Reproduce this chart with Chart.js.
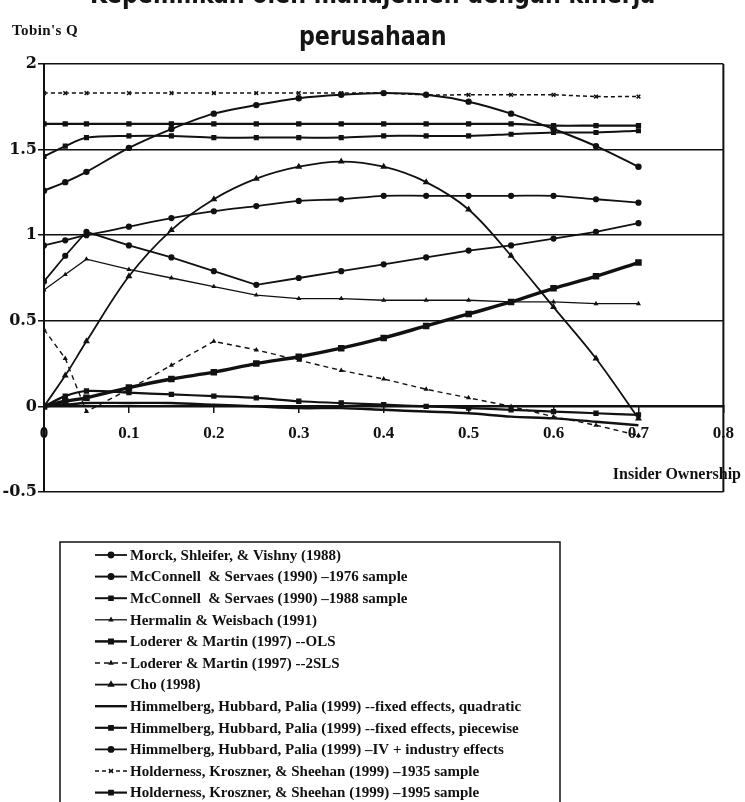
<!DOCTYPE html>
<html>
<head>
<meta charset="utf-8">
<script src="https://cdn.jsdelivr.net/npm/chart.js@4.4.1/dist/chart.umd.min.js"></script>
<style>
  html, body { margin: 0; padding: 0; background: #fff; }
  #wrap { position: relative; width: 745px; height: 802px; overflow: hidden; }
  #chart { position: absolute; left: 0; top: 0; }
  .title { position: absolute; left: 0; width: 745px; text-align: center; line-height: 27px;
           font: bold 27px "Liberation Sans Narrow", "DejaVu Sans Condensed", sans-serif; color: #151515;
           white-space: nowrap; transform: scaleX(0.915); transform-origin: 375px 0; }
  #t1 { top: -22px; }
  #t2 { top: 20px; }
  #yTitle { position: absolute; left: 12px; top: 22px; font: bold 15px "Liberation Serif", serif; letter-spacing: 0.4px; color: #111; }
  #xTitle { position: absolute; right: 4px; top: 465px; font: bold 16px "Liberation Serif", serif; color: #111; }
</style>
</head>
<body>
<div id="wrap">
  <canvas id="chart" width="745" height="802"></canvas>
  <div class="title" id="t1">Kepemilikan oleh manajemen dengan kinerja</div>
  <div class="title" id="t2">perusahaan</div>
  <div id="yTitle">Tobin's Q</div>
  <div id="xTitle">Insider Ownership</div>
</div>
<script>
/* ====== DATA ====== */
const ownership = [0, 0.025, 0.05, 0.1, 0.15, 0.2, 0.25, 0.3, 0.35, 0.4, 0.45, 0.5, 0.55, 0.6, 0.65, 0.7];

const morck        = [0.73, 0.88, 1.02, 0.94, 0.87, 0.79, 0.71, 0.75, 0.79, 0.83, 0.87, 0.91, 0.94, 0.98, 1.02, 1.07];
const mcc1976      = [1.26, 1.31, 1.37, 1.51, 1.62, 1.71, 1.76, 1.80, 1.82, 1.83, 1.82, 1.78, 1.71, 1.62, 1.52, 1.40];
const mcc1988      = [1.46, 1.52, 1.57, 1.58, 1.58, 1.57, 1.57, 1.57, 1.57, 1.58, 1.58, 1.58, 1.59, 1.60, 1.60, 1.61];
const hermalin     = [0.68, 0.77, 0.86, 0.80, 0.75, 0.70, 0.65, 0.63, 0.63, 0.62, 0.62, 0.62, 0.61, 0.61, 0.60, 0.60];
const lodererOls   = [0.00, 0.03, 0.05, 0.11, 0.16, 0.20, 0.25, 0.29, 0.34, 0.40, 0.47, 0.54, 0.61, 0.69, 0.76, 0.84];
const loderer2sls  = [0.45, 0.28, -0.03, 0.10, 0.24, 0.38, 0.33, 0.27, 0.21, 0.16, 0.10, 0.05, 0.00, -0.06, -0.11, -0.17];
const cho          = [0.00, 0.18, 0.38, 0.76, 1.03, 1.21, 1.33, 1.40, 1.43, 1.40, 1.31, 1.15, 0.88, 0.58, 0.28, -0.07];
const himQuad      = [0.00, 0.01, 0.02, 0.02, 0.02, 0.01, 0.00, -0.01, -0.01, -0.02, -0.03, -0.04, -0.06, -0.07, -0.09, -0.11];
const himPiece     = [0.00, 0.06, 0.09, 0.08, 0.07, 0.06, 0.05, 0.03, 0.02, 0.01, 0.00, -0.01, -0.02, -0.03, -0.04, -0.05];
const himIV        = [0.94, 0.97, 1.00, 1.05, 1.10, 1.14, 1.17, 1.20, 1.21, 1.23, 1.23, 1.23, 1.23, 1.23, 1.21, 1.19];
const hold1935     = [1.83, 1.83, 1.83, 1.83, 1.83, 1.83, 1.83, 1.83, 1.83, 1.83, 1.82, 1.82, 1.82, 1.82, 1.81, 1.81];
const hold1995     = [1.65, 1.65, 1.65, 1.65, 1.65, 1.65, 1.65, 1.65, 1.65, 1.65, 1.65, 1.65, 1.65, 1.64, 1.64, 1.64];

const seriesNames = [
  "Morck, Shleifer, & Vishny (1988)",
  "McConnell  & Servaes (1990) \u20131976 sample",
  "McConnell  & Servaes (1990) \u20131988 sample",
  "Hermalin & Weisbach (1991)",
  "Loderer & Martin (1997) --OLS",
  "Loderer & Martin (1997) --2SLS",
  "Cho (1998)",
  "Himmelberg, Hubbard, Palia (1999) --fixed effects, quadratic",
  "Himmelberg, Hubbard, Palia (1999) --fixed effects, piecewise",
  "Himmelberg, Hubbard, Palia (1999) \u2013IV + industry effects",
  "Holderness, Kroszner, & Sheehan (1999) \u20131935 sample",
  "Holderness, Kroszner, & Sheehan (1999) \u20131995 sample"
];

const xTickLabels = ["0", "0.1", "0.2", "0.3", "0.4", "0.5", "0.6", "0.7", "0.8"];
const yTickLabels = ["-0.5", "0", "0.5", "1", "1.5", "2"];

/* ====== HELPERS ====== */
const INK = "#111";

function series(i, values, style) {
  return Object.assign({
    label: seriesNames[i],
    data: ownership.map((x, k) => ({ x: x, y: values[k] })),
    borderColor: INK,
    backgroundColor: INK,
    borderWidth: 1.8,
    pointRadius: 2.2,
    pointHoverRadius: 2.2,
    pointStyle: "circle",
    tension: 0.3
  }, style);
}

/* legend box + right frame line */
const boxLegend = {
  id: "boxLegend",
  afterDraw(chart) {
    const ctx = chart.ctx;
    const a = chart.chartArea;
    ctx.save();
    ctx.strokeStyle = INK;
    ctx.fillStyle = INK;

    ctx.lineWidth = 2;
    ctx.beginPath();
    ctx.moveTo(a.right, a.top);
    ctx.lineTo(a.right, a.bottom);
    ctx.stroke();

    ctx.lineWidth = 1.5;
    ctx.strokeRect(60, 542, 500, 300);

    ctx.font = 'bold 15px "Liberation Serif", serif';
    ctx.textBaseline = "middle";
    chart.data.datasets.forEach((ds, i) => {
      const y = 555 + i * 21.6;
      ctx.setLineDash(ds.borderDash || []);
      ctx.lineWidth = Math.min(ds.borderWidth, 2.5);
      ctx.beginPath();
      ctx.moveTo(95, y);
      ctx.lineTo(127, y);
      ctx.stroke();
      ctx.setLineDash([]);
      if (ds.pointRadius > 0) {
        Chart.helpers.drawPoint(ctx, { pointStyle: ds.pointStyle, radius: ds.pointRadius + 0.3, borderWidth: 1, rotation: 0 }, 111, y);
      }
      ctx.fillText(ds.label, 130, y + 1);
    });
    ctx.restore();
  }
};

/* ====== CHART ====== */
const ctx = document.getElementById("chart").getContext("2d");

new Chart(ctx, {
  type: "line",
  data: {
    datasets: [
      series(0, morck,       { tension: 0, pointStyle: "circle" }),
      series(1, mcc1976,     { pointStyle: "circle", borderWidth: 2 }),
      series(2, mcc1988,     { pointStyle: "rect", borderWidth: 2 }),
      series(3, hermalin,    { tension: 0, borderWidth: 1.3, pointRadius: 1.6, pointStyle: "triangle" }),
      series(4, lodererOls,  { borderWidth: 3.4, pointStyle: "rect" }),
      series(5, loderer2sls, { tension: 0, borderDash: [5, 4], borderWidth: 1.4, pointRadius: 1.6, pointStyle: "triangle" }),
      series(6, cho,         { tension: 0.35, pointStyle: "triangle" }),
      series(7, himQuad,     { borderWidth: 2.4, pointRadius: 0 }),
      series(8, himPiece,    { borderWidth: 2.2, pointStyle: "rect" }),
      series(9, himIV,       { pointStyle: "circle" }),
      series(10, hold1935,   { borderDash: [4, 3], borderWidth: 1.5, pointStyle: "crossRot", pointRadius: 2.6 }),
      series(11, hold1995,   { borderWidth: 2.2, pointStyle: "rect" })
    ]
  },
  options: {
    responsive: false,
    animation: false,
    devicePixelRatio: 1,
    layout: { padding: { top: 64, right: 12, bottom: 310, left: 0 } },
    plugins: {
      legend: { display: false },
      tooltip: { enabled: false },
      title: { display: false }
    },
    scales: {
      x: {
        type: "linear",
        position: { y: 0 },
        min: 0,
        max: 0.8,
        ticks: {
          stepSize: 0.1,
          padding: 11,
          color: INK,
          font: { family: "Liberation Serif", size: 17, weight: "bold" },
          callback: (v, i) => xTickLabels[i]
        },
        grid: { drawOnChartArea: false, drawTicks: true, tickLength: 6, color: INK, lineWidth: 1.5 },
        border: { display: true, color: INK, width: 2 }
      },
      y: {
        min: -0.5,
        max: 2,
        afterFit: scale => { scale.width = 44; },
        ticks: {
          stepSize: 0.5,
          padding: 1,
          color: INK,
          font: { family: "DejaVu Serif", size: 16, weight: "bold" },
          callback: (v, i) => yTickLabels[i]
        },
        grid: { color: INK, lineWidth: 1.5, tickLength: 6 },
        border: { display: true, color: INK, width: 2 }
      }
    }
  },
  plugins: [boxLegend]
});
</script>
</body>
</html>
